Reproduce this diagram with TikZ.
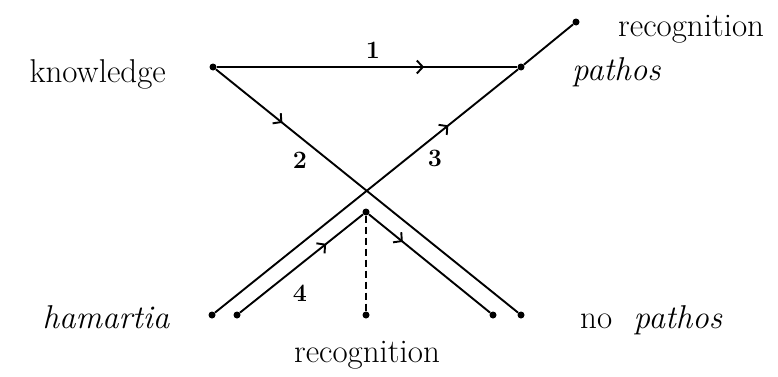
\documentclass[tikz,border=0pt]{standalone}
\usetikzlibrary{arrows.meta,decorations.markings}

\begin{document}
\begin{tikzpicture}[x=1pt, y=1pt,
  dot/.style={circle, fill=black, inner sep=0pt, minimum size=7pt},
  plotline/.style={line width=1.9pt},
  midarrow/.style={postaction={decorate}, decoration={markings,
    mark=at position #1 with {\arrow{Straight Barb[length=6pt,width=13pt]}}}},
  word/.style={font=\fontsize{33}{40}\selectfont, inner sep=0pt},
  numlabel/.style={font=\fontsize{25}{30}\selectfont\bfseries, inner sep=0pt}
]
\useasboundingbox (0,0) rectangle (778,376);
\node[dot] (know) at (213,309) {};
\node[dot] (pathos) at (521,309) {};
\node[dot] (rectop) at (576,354) {};
\node[dot] (ham) at (212,61) {};
\node[dot] (hamtwo) at (237,61) {};
\node[dot] (midtop) at (366,164) {};
\node[dot] (midbot) at (366,61) {};
\node[dot] (nopathtwo) at (493,61) {};
\node[dot] (nopath) at (521,61) {};
\draw[plotline, midarrow=0.69] (know) -- (pathos);
\draw[plotline, midarrow=0.22] (know) -- (nopath);
\draw[plotline, midarrow=0.77] (ham) -- (pathos);
\draw[plotline] (pathos) -- (rectop);
\draw[plotline, midarrow=0.70] (hamtwo) -- (midtop);
\draw[plotline, midarrow=0.28] (midtop) -- (nopathtwo);
\draw[plotline, dash pattern=on 7pt off 4pt] (midtop) -- (midbot);
\node[word, anchor=base east] (knowlabel) at (166,294) {knowledge};
\node[word, anchor=base west] (pathoslabel) at (572,296) {\textit{pathos}};
\node[word, anchor=base west] (rectoplabel) at (618,340) {recognition};
\node[word, anchor=base east] (hamlabel) at (170,48) {\textit{hamartia}};
\node[word, anchor=base west] (nopathlabel) at (580,48) {no\hspace{0.65em}\textit{pathos}};
\node[word, anchor=base] (recbotlabel) at (367,14) {recognition};
\node[numlabel] (one) at (373,326) {1};
\node[numlabel] (two) at (300,216) {2};
\node[numlabel] (three) at (435,218) {3};
\node[numlabel] (four) at (300,83) {4};
\end{tikzpicture}
\end{document}
